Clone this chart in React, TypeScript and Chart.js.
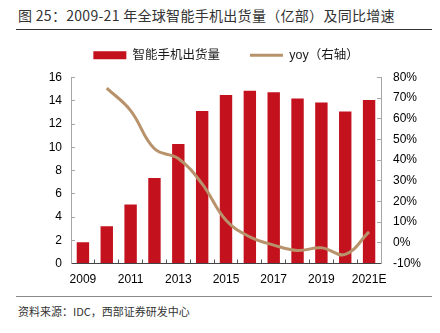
import React, { useEffect, useRef } from 'react';
import { Chart, registerables } from 'chart.js';

Chart.register(...registerables);

const years = ['2009', '2010', '2011', '2012', '2013', '2014', '2015', '2016', '2017', '2018', '2019', '2020', '2021E'];
const shipments = [1.83, 3.2, 5.08, 7.35, 10.28, 13.12, 14.49, 14.86, 14.74, 14.2, 13.84, 13.07, 14.06];
const yoyGrowth = [null, 74.9, 64.0, 45.5, 40.8, 28.5, 10.9, 2.9, -1.1, -3.7, -2.4, -5.6, 5.3];

const barLabel = '智能手机出货量';
const lineLabel = 'yoy（右轴）';
const titleText = '图 25：2009-21 年全球智能手机出货量（亿部）及同比增速';
const sourceText = '资料来源：IDC，西部证券研发中心';

const BAR_COLOR = '#C3111E';
const LINE_COLOR = '#B8926A';
const TICK_FONT = { family: '"Liberation Sans", Arial, sans-serif', size: 12 };

const legendGap = {
  id: 'legendGap',
  beforeLayout(chart: any) {
    const lg = chart.legend;
    if (lg && !lg.__patched) {
      const orig = lg.fit.bind(lg);
      lg.fit = function () {
        orig();
        this.height += 6;
      };
      lg.__patched = true;
    }
  },
};

export default function App() {
  const ref = useRef<HTMLCanvasElement>(null);

  useEffect(() => {
    document.body.style.margin = '0';
    const chart = new Chart(ref.current!, {
      plugins: [legendGap],
      data: {
        labels: years,
        datasets: [
          {
            type: 'bar',
            label: barLabel,
            data: shipments,
            backgroundColor: BAR_COLOR,
            borderWidth: 0,
            categoryPercentage: 1,
            barPercentage: 0.52,
            yAxisID: 'y',
            order: 1,
          },
          {
            type: 'line',
            label: lineLabel,
            data: yoyGrowth,
            borderColor: LINE_COLOR,
            backgroundColor: LINE_COLOR,
            borderWidth: 3,
            pointRadius: 0,
            tension: 0.4,
            yAxisID: 'y1',
            order: 0,
          },
        ],
      } as any,
      options: {
        animation: false,
        responsive: true,
        maintainAspectRatio: false,
        layout: { padding: { top: 4, left: 12, right: 0, bottom: 0 } },
        plugins: {
          tooltip: { enabled: false },
          legend: {
            position: 'top',
            labels: {
              usePointStyle: true,
              pointStyleWidth: 33,
              boxHeight: 8,
              padding: 10,
              color: '#1a1a1a',
              font: { family: '"Liberation Sans", "Noto Sans CJK SC", sans-serif', size: 12.5 },
              sort: (a: any, b: any) => a.datasetIndex - b.datasetIndex,
              generateLabels: (c: any) => {
                const items = Chart.defaults.plugins.legend.labels.generateLabels(c);
                return items.map((it: any) => {
                  if (it.datasetIndex === 0) {
                    return { ...it, pointStyle: 'rect', lineWidth: 0, text: it.text + '     \u2009' };
                  }
                  return { ...it, pointStyle: 'line', lineWidth: 3, strokeStyle: LINE_COLOR };
                });
              },
            },
          },
        },
        scales: {
          x: {
            type: 'category',
            offset: true,
            afterFit: (s: any) => { s.height = 26.5; },
            grid: { drawOnChartArea: false, drawTicks: true, tickLength: -4, color: '#555', offset: true },
            border: { color: '#444', width: 1 },
            ticks: {
              autoSkip: false,
              maxRotation: 0,
              padding: 13,
              color: '#000',
              font: TICK_FONT,
              callback: (_v: any, i: number) => (i % 2 === 0 ? years[i] : ''),
            },
          },
          y: {
            position: 'left',
            min: 0,
            max: 16,
            afterFit: (s: any) => { s.width = 59; },
            grid: { drawOnChartArea: false, drawTicks: true, tickLength: -4, color: '#a6a6a6' },
            border: { color: '#a6a6a6', width: 1 },
            ticks: { stepSize: 2, padding: 13, color: '#000', font: TICK_FONT },
          },
          y1: {
            position: 'right',
            min: -10,
            max: 80,
            afterFit: (s: any) => { s.width = 59; },
            grid: { drawOnChartArea: false, drawTicks: true, tickLength: -4, color: '#a6a6a6' },
            border: { color: '#a6a6a6', width: 1 },
            ticks: {
              stepSize: 10,
              padding: 16,
              color: '#000',
              font: TICK_FONT,
              callback: (v: any) => `${v}%`,
            },
          },
        },
      },
    });
    return () => chart.destroy();
  }, []);

  return (
    <div
      style={{
        position: 'relative',
        width: 440,
        height: 333,
        background: '#fff',
        fontFamily: '"Noto Sans CJK SC", sans-serif',
        overflow: 'hidden',
      }}
    >
      <div style={{ position: 'absolute', left: 18, top: 4, fontSize: 14, letterSpacing: '0.3px', lineHeight: '22px', color: '#333', whiteSpace: 'nowrap' }}>
        {titleText}
      </div>
      <div style={{ position: 'absolute', left: 16, top: 29, width: 416, height: 1.3, background: '#333' }} />
      <div style={{ position: 'absolute', left: 0, top: 35, width: 440, height: 255 }}>
        <canvas ref={ref} />
      </div>
      <div style={{ position: 'absolute', left: 16, top: 296, width: 416, height: 1, background: '#888' }} />
      <div style={{ position: 'absolute', left: 18, top: 304, fontSize: 11, lineHeight: '15px', color: '#333', whiteSpace: 'nowrap' }}>
        {sourceText}
      </div>
    </div>
  );
}
